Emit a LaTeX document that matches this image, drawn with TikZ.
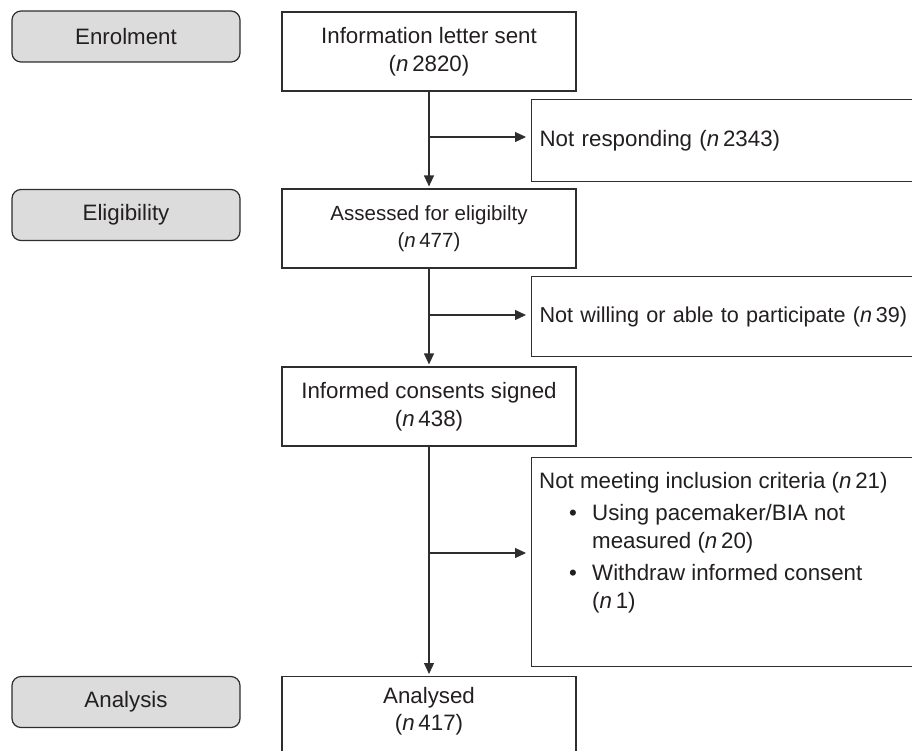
\documentclass[tikz,border=0pt]{standalone}
\usepackage{fontspec}
\setmainfont{Liberation Sans}
\usetikzlibrary{arrows.meta}
\definecolor{ln}{HTML}{2E2E2E}
\definecolor{txt}{HTML}{231F20}
\definecolor{stagegray}{HTML}{DCDCDC}
\newcommand{\nn}[1]{(\textit{n}\,#1)}
\begin{document}
\begin{tikzpicture}[x=1pt,y=-1pt,
  every node/.style={font=\fontsize{22.3}{27.5}\selectfont, text=txt},
  stage/.style={draw=ln, fill=stagegray, rounded corners=9pt, minimum width=228pt, minimum height=51pt, inner sep=0pt, line width=1.2pt},
  mainbox/.style={draw=ln, fill=white, minimum width=294pt, minimum height=79pt, inner sep=0pt, align=center, line width=1.2pt},
  sidebox/.style={draw=ln, fill=white, anchor=north west, text width=368pt, inner xsep=8pt, inner ysep=0pt, align=left, line width=1.2pt},
  arr/.style={draw=ln, line width=1.2pt, -{Triangle[length=11pt,width=10pt]}},
]
\useasboundingbox (0,0) rectangle (912,750);
\clip (0,0) rectangle (912,750);

% stage labels
\node[stage] (s1) at (126,36.5) {Enrolment};
\node[stage] (s2) at (126,215) {Eligibility};
\node[stage] (s3) at (126,702) {Analysis};

% main column
\node[mainbox] (b1) at (429,51.5) {Information letter sent\\ \nn{2820}};
\node[mainbox, font=\fontsize{20.5}{27}\selectfont] (b2) at (429,228.5) {Assessed for eligibilty\\ \nn{477}};
\node[mainbox] (b3) at (429,406.5) {Informed consents signed\\ \nn{438}};
\node[mainbox, anchor=north] (b4) at (429,676) {};
\node (b4t) at (429,711) [align=center] {Analysed\\ \nn{417}};

% side boxes
\node[sidebox, minimum height=82pt] (r1) at (531,99) {Not responding \nn{2343}};
\node[sidebox, minimum height=80pt, text width=420pt, font=\fontsize{21.6}{27}\selectfont] (r2) at (531,276) {Not willing or able to participate \nn{39}};
\node[sidebox, minimum height=209pt] (r3) at (531,457) {};
\node[anchor=north west, inner sep=0pt, align=left] (r3t) at (539,472) {%
Not meeting inclusion criteria \nn{21}\\[5pt]
\makebox[53pt][l]{\hspace{30pt}\textbullet}Using pacemaker/BIA not\\
\hspace*{53pt}measured \nn{20}\\[5pt]
\makebox[53pt][l]{\hspace{30pt}\textbullet}Withdraw informed consent\\
\hspace*{53pt}\nn{1}};

% connectors
\draw[arr, shorten >=2pt] (b1.south) -- (b2.north);
\draw[arr, shorten >=2pt] (b2.south) -- (b3.north);
\draw[arr, shorten >=2pt] (b3.south) -- (b4.north);

\coordinate (j1) at (429,137);
\coordinate (j2) at (429,315);
\coordinate (j3) at (429,553);
\draw[arr, shorten >=5pt] (j1) -- (j1 -| r1.west);
\draw[arr, shorten >=5pt] (j2) -- (j2 -| r2.west);
\draw[arr, shorten >=5pt] (j3) -- (j3 -| r3.west);
\end{tikzpicture}
\end{document}
